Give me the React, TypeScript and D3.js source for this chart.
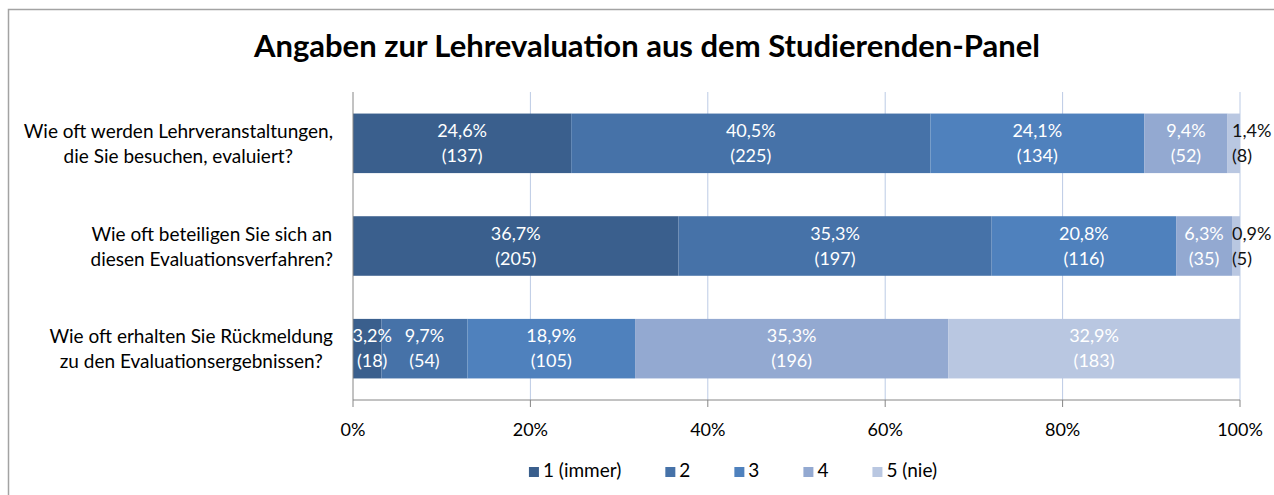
import React, { useEffect, useRef } from 'react';
import * as d3 from 'd3';

// questions (each one split in two lines like in the original)
const categories = [
    ['Wie oft werden Lehrveranstaltungen,', 'die Sie besuchen, evaluiert?'],
    ['Wie oft beteiligen Sie sich an', 'diesen Evaluationsverfahren?'],
    ['Wie oft erhalten Sie Rückmeldung', 'zu den Evaluationsergebnissen?'],
];
const seriesNames = ['1 (immer)', '2', '3', '4', '5 (nie)'];
// percentages per question, one entry per answer
const percents = [
    [24.6, 40.5, 24.1, 9.4, 1.4],
    [36.7, 35.3, 20.8, 6.3, 0.9],
    [3.2, 9.7, 18.9, 35.3, 32.9],
];
// absolute counts
const counts = [
    [137, 225, 134, 52, 8],
    [205, 197, 116, 35, 5],
    [18, 54, 105, 196, 183],
];
const xTicks = [0, 20, 40, 60, 80, 100];
const colors = ['#3a5f8d', '#4672a8', '#4f81bd', '#93a9d1', '#b9c7e1'];

const W = 1274;
const H = 495;
const FONT = 'Lato, "Open Sans", sans-serif';

const App: React.FC = () => {
    const svgRef = useRef<SVGSVGElement | null>(null);

    useEffect(() => {
        document.body.style.margin = '0';
        if (!svgRef.current) return;
        const svg = d3.select(svgRef.current);
        svg.selectAll('*').remove();

        const margin = { top: 92, right: 34, bottom: 95, left: 353 };
        const x = d3.scaleLinear().domain([0, 100]).range([margin.left, W - margin.right]);
        const y = d3
            .scaleBand()
            .domain(categories.map((_, i) => String(i)))
            .range([margin.top, H - margin.bottom])
            .paddingInner(0.42)
            .paddingOuter(0.21);

        // outer frame (runs off the right and bottom edge)
        svg.append('path')
            .attr('d', `M8.5,${H + 2}V9.5H${W + 2}`)
            .attr('fill', 'none')
            .attr('stroke', '#a3a3a3')
            .attr('stroke-width', 1.5);

        svg.append('text')
            .attr('x', 647)
            .attr('y', 49)
            .attr('text-anchor', 'middle')
            .attr('dominant-baseline', 'middle')
            .attr('font-family', FONT)
            .attr('font-weight', 'bold')
            .attr('font-size', 31)
            .attr('fill', '#000')
            .text('Angaben zur Lehrevaluation aus dem Studierenden-Panel');

        // vertical gridlines
        svg.append('g')
            .selectAll('line')
            .data(xTicks.filter((t) => t > 0))
            .join('line')
            .attr('x1', (d) => x(d))
            .attr('x2', (d) => x(d))
            .attr('y1', margin.top)
            .attr('y2', H - margin.bottom)
            .attr('stroke', '#bccbe5')
            .attr('stroke-width', 1);

        // stacked bars
        const stacks = percents.map((row) => {
            let acc = 0;
            return row.map((v) => {
                const s = acc;
                acc += v;
                return [s, acc];
            });
        });

        const bars = svg.append('g');
        stacks.forEach((row, i) => {
            bars.selectAll(`.seg${i}`)
                .data(row)
                .join('rect')
                .attr('class', `seg${i}`)
                .attr('x', (d) => x(d[0]))
                .attr('width', (d) => x(d[1]) - x(d[0]))
                .attr('y', y(String(i))!)
                .attr('height', y.bandwidth())
                .attr('fill', (_, j) => colors[j]);
        });

        // axes lines
        const axisColor = '#868686';
        svg.append('line')
            .attr('x1', x(0)).attr('x2', x(0))
            .attr('y1', margin.top).attr('y2', H - margin.bottom)
            .attr('stroke', axisColor);
        const xAxis = svg.append('g').attr('transform', `translate(0,${H - margin.bottom})`);
        xAxis.append('line')
            .attr('x1', x(0)).attr('x2', x(100))
            .attr('stroke', axisColor);
        xAxis.selectAll('.tick')
            .data(xTicks)
            .join('line')
            .attr('x1', (d) => x(d)).attr('x2', (d) => x(d))
            .attr('y1', 0).attr('y2', 7)
            .attr('stroke', axisColor);
        xAxis.selectAll('text')
            .data(xTicks)
            .join('text')
            .attr('x', (d) => x(d))
            .attr('y', 31)
            .attr('text-anchor', 'middle')
            .attr('dominant-baseline', 'middle')
            .attr('font-family', FONT)
            .attr('font-size', 18)
            .attr('fill', '#000')
            .text((d) => `${d}%`);

        // data labels, clipped at the left plot edge
        svg.append('clipPath').attr('id', 'lblclip')
            .append('rect')
            .attr('x', x(0)).attr('y', 0)
            .attr('width', W - x(0)).attr('height', H);
        const labels = svg.append('g').attr('clip-path', 'url(#lblclip)');
        const fmt = (v: number) => `${v.toFixed(1).replace('.', ',')}%`;
        stacks.forEach((row, i) => {
            const cy = y(String(i))! + y.bandwidth() / 2;
            row.forEach((d, j) => {
                const small = percents[i][j] < 2;
                // tiny end segments: label sits just left of the 100% line
                let cx = small ? x(100) - 8 : (x(d[0]) + x(d[1])) / 2;
                if (!small && percents[i][j] < 5) cx += 5;
                const t = labels.append('text')
                    .attr('text-anchor', small ? 'start' : 'middle')
                    .attr('font-family', FONT)
                    .attr('font-size', 18)
                    .attr('fill', small ? '#111' : '#fff');
                t.append('tspan').attr('x', cx).attr('y', cy - 11)
                    .attr('dominant-baseline', 'middle').text(fmt(percents[i][j]));
                t.append('tspan').attr('x', cx).attr('y', cy + 14)
                    .attr('dominant-baseline', 'middle').text(`(${counts[i][j]})`);
            });
        });

        // category labels: lines centered, block right aligned
        categories.forEach((lines, i) => {
            const cy = y(String(i))! + y.bandwidth() / 2;
            const g = svg.append('g');
            const texts = lines.map((l, k) =>
                g.append('text')
                    .attr('y', cy - 10 + k * 25)
                    .attr('text-anchor', 'middle')
                    .attr('dominant-baseline', 'middle')
                    .attr('font-family', FONT)
                    .attr('font-size', 19)
                    .attr('fill', '#000')
                    .text(l)
            );
            const maxW = d3.max(texts, (t) => (t.node() as SVGTextElement).getComputedTextLength()) || 0;
            texts.forEach((t) => t.attr('x', 333 - maxW / 2));
        });

        // legend
        const legend = svg.append('g');
        const items = seriesNames.map((name, j) => {
            const g = legend.append('g');
            g.append('rect')
                .attr('x', 0).attr('y', 467)
                .attr('width', 10).attr('height', 10)
                .attr('fill', colors[j]);
            const t = g.append('text')
                .attr('x', 14).attr('y', 472)
                .attr('dominant-baseline', 'middle')
                .attr('font-family', FONT)
                .attr('font-size', 19)
                .attr('fill', '#000')
                .text(name);
            return { g, w: 14 + (t.node() as SVGTextElement).getComputedTextLength() };
        });
        const gap = 44;
        const total = d3.sum(items, (d) => d.w) + gap * (items.length - 1);
        let lx = 733 - total / 2;
        items.forEach((it) => {
            it.g.attr('transform', `translate(${lx},0)`);
            lx += it.w + gap;
        });
    }, []);

    return <svg ref={svgRef} width={W} height={H} style={{ display: 'block', background: '#fff' }} />;
};

export default App;
